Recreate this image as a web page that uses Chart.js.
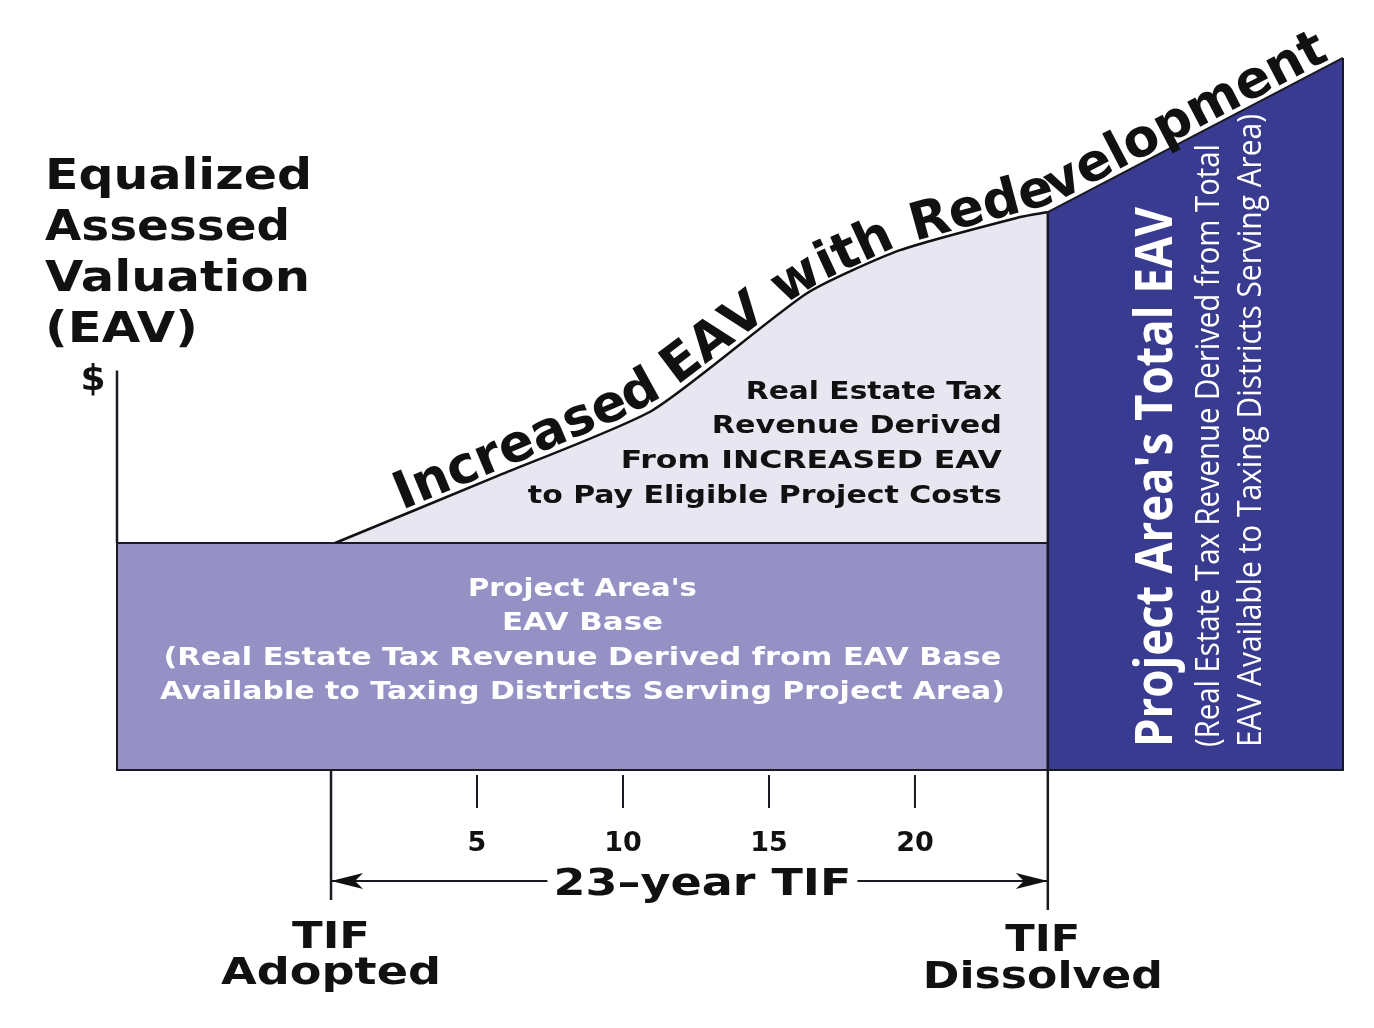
<!DOCTYPE html>
<html>
<head>
<meta charset="utf-8">
<script src="https://cdn.jsdelivr.net/npm/chart.js@4.4.1/dist/chart.umd.min.js"></script>
<style>
  html, body { margin: 0; padding: 0; background: #fff; }
  #wrap { width: 1374px; height: 1028px; }
</style>
</head>
<body>
<div id="wrap"><canvas id="tif" width="1374" height="1028"></canvas></div>
<script>
// ── Données (années depuis l'adoption du TIF, EAV relative à la base) ──
const xRange        = [-7.33, 34.66];
const baseEAV       = 1.0;
const tifAdopted    = 0;
const tifDissolved  = 24.55;
const tickYears     = [5, 10, 15, 20];
const curveYears    = [0.14, 5.79, 11.03, 16.30, 19.49, 23.60, 24.55];
const curveEAV      = [1.00, 1.30, 1.586, 2.10, 2.29, 2.436, 2.458];
const totalYears    = [24.55, 34.66];
const totalEAV      = [2.458, 3.137];
const axisTopEAV    = 1.76;
const yMax          = 3.26;

const curveTitle = 'Increased EAV with Redevelopment';
const titleLines = ['Equalized', 'Assessed', 'Valuation', '(EAV)'];
const increasedLines = ['Real Estate Tax', 'Revenue Derived', 'From INCREASED EAV', 'to Pay Eligible Project Costs'];
const baseLines = ["Project Area's", 'EAV Base', '(Real Estate Tax Revenue Derived from EAV Base', 'Available to Taxing Districts Serving Project Area)'];
const totalLines = ["Project Area's Total EAV", '(Real Estate Tax Revenue Derived from Total', 'EAV Available to Taxing Districts Serving Area)'];

const FONT = '"DejaVu Sans", Verdana, sans-serif';
const NARROW = '"Liberation Sans Narrow", "Open Sans", sans-serif';

/* ── Helpers texte ─────────────────────────────────────── */
function fitText(ctx, str, x, y, font, width, align, color) {
    ctx.save();
    ctx.font = font;
    ctx.fillStyle = color || '#111';
    ctx.textBaseline = 'middle';
    const w = ctx.measureText(str).width;
    const sx = width ? width / w : 1;
    ctx.translate(x, y);
    ctx.scale(sx, 1);
    ctx.textAlign = align || 'left';
    ctx.fillText(str, 0, 0);
    ctx.restore();
}

function pointAt(poly, s) {
    for (let i = 0; i < poly.length - 1; i++) {
        const a = poly[i], b = poly[i + 1];
        const len = Math.hypot(b.x - a.x, b.y - a.y);
        if (s <= len || i === poly.length - 2) {
            const t = s / len;
            return { x: a.x + (b.x - a.x) * t, y: a.y + (b.y - a.y) * t };
        }
        s -= len;
    }
}

function arcLengthAtX(poly, x) {
    let s = 0;
    for (let i = 0; i < poly.length - 1; i++) {
        const a = poly[i], b = poly[i + 1];
        const len = Math.hypot(b.x - a.x, b.y - a.y);
        if (x <= b.x) return s + len * (x - a.x) / (b.x - a.x);
        s += len;
    }
    return s;
}

/* ── Plugin : contours, axes, annotations ─────────────── */
const diagramPlugin = {
    id: 'diagram',
    afterDatasetsDraw(chart) {
        const { ctx, scales: { x, y } } = chart;
        const bottom = y.getPixelForValue(0);
        const xL = x.getPixelForValue(xRange[0]);
        const xA = x.getPixelForValue(tifAdopted);
        const xD = x.getPixelForValue(tifDissolved);
        const xR = x.getPixelForValue(totalYears[1]);
        const yB = y.getPixelForValue(baseEAV);

        ctx.save();
        ctx.strokeStyle = '#1a1a22';
        ctx.lineWidth = 2;

        // contour base EAV
        ctx.strokeRect(xL, yB, xD - xL, bottom - yB);
        // contour bloc total
        ctx.beginPath();
        ctx.moveTo(xD, bottom);
        ctx.lineTo(xR, bottom);
        ctx.lineTo(xR, y.getPixelForValue(totalEAV[1]));
        ctx.stroke();

        // axe vertical $
        ctx.lineWidth = 2.5;
        ctx.beginPath();
        ctx.moveTo(xL, yB);
        ctx.lineTo(xL, y.getPixelForValue(axisTopEAV));
        ctx.stroke();

        // lignes adoption / dissolution
        ctx.beginPath();
        ctx.moveTo(xA, bottom);
        ctx.lineTo(xA, bottom + 130);
        ctx.moveTo(xD, y.getPixelForValue(totalEAV[0]));
        ctx.lineTo(xD, bottom + 140);
        ctx.stroke();

        // graduations
        ctx.lineWidth = 2;
        tickYears.forEach(t => {
            const px = x.getPixelForValue(t);
            ctx.beginPath();
            ctx.moveTo(px, bottom + 5);
            ctx.lineTo(px, bottom + 38);
            ctx.stroke();
            fitText(ctx, String(t), px, bottom + 74, 'bold 27px ' + FONT, null, 'center');
        });

        // flèche 23 ans
        const ya = bottom + 111;
        ctx.beginPath();
        ctx.moveTo(xA, ya);
        ctx.lineTo(xD, ya);
        ctx.stroke();
        ctx.fillStyle = '#111';
        [[xA, 1], [xD, -1]].forEach(([tip, dir]) => {
            ctx.beginPath();
            ctx.moveTo(tip, ya);
            ctx.lineTo(tip + dir * 32, ya - 8);
            ctx.lineTo(tip + dir * 24, ya);
            ctx.lineTo(tip + dir * 32, ya + 8);
            ctx.closePath();
            ctx.fill();
        });
        const xm = (xA + xD) / 2 + 13;
        ctx.fillStyle = '#fff';
        ctx.fillRect(xm - 155, ya - 22, 310, 44);
        fitText(ctx, '23–year TIF', xm, ya + 4, 'bold 38px ' + FONT, 298, 'center');

        // TIF Adopted / Dissolved
        fitText(ctx, 'TIF', xA, bottom + 168, 'bold 38px ' + FONT, 78, 'center');
        fitText(ctx, 'Adopted', xA, bottom + 204, 'bold 38px ' + FONT, 220, 'center');
        fitText(ctx, 'TIF', xD - 5, bottom + 171, 'bold 38px ' + FONT, 75, 'center');
        fitText(ctx, 'Dissolved', xD - 5, bottom + 208, 'bold 38px ' + FONT, 240, 'center');

        // titre de l'axe
        const tw = [267, 245, 265, 153];
        titleLines.forEach((l, i) => {
            fitText(ctx, l, xL - 72, 178 + i * 51, '900 42px ' + FONT, tw[i], 'left');
        });
        fitText(ctx, '$', xL - 24, y.getPixelForValue(axisTopEAV) + 10, 'bold 36px ' + FONT, null, 'center');

        // texte zone augmentée
        const iw = [256, 290, 381, 474];
        increasedLines.forEach((l, i) => {
            fitText(ctx, l, xD - 46, 392 + i * 34.7, 'bold 25px ' + FONT, iw[i], 'right');
        });

        // texte base
        const bw = [229, 161, 838, 845];
        const xc = (xL + xD) / 2;
        baseLines.forEach((l, i) => {
            fitText(ctx, l, xc, 589 + i * 34.5, 'bold 25px ' + FONT, bw[i], 'center', '#fff');
        });

        // texte vertical bloc total
        const vx = [1157, 1210, 1252];
        const vw = [540, 603, 633];
        const vf = ['700 52px ', '500 32px ', '500 32px '];
        totalLines.forEach((l, i) => {
            ctx.save();
            ctx.translate(vx[i], 747);
            ctx.rotate(-Math.PI / 2);
            fitText(ctx, l, 0, 0, vf[i] + NARROW, vw[i], 'left', '#fff');
            ctx.restore();
        });

        // titre le long de la courbe
        const m1 = chart.getDatasetMeta(1).data;
        const m2 = chart.getDatasetMeta(2).data;
        const poly = m1.map(p => ({ x: p.x, y: p.y })).concat([{ x: m2[1].x, y: m2[1].y }]);
        const s0 = arcLengthAtX(poly, 404);
        const s1 = arcLengthAtX(poly, 1330);
        ctx.font = '600 48px ' + FONT;
        const total = ctx.measureText(curveTitle).width;
        const k = (s1 - s0) / total;
        ctx.font = '600 ' + (48 * k).toFixed(1) + 'px ' + FONT;
        ctx.fillStyle = '#111';
        ctx.textBaseline = 'alphabetic';
        ctx.textAlign = 'left';
        let s = s0;
        for (const ch of curveTitle) {
            const w = ctx.measureText(ch).width;
            const p1 = pointAt(poly, s), p2 = pointAt(poly, s + w);
            const ang = Math.atan2(p2.y - p1.y, p2.x - p1.x);
            ctx.save();
            ctx.translate(p1.x, p1.y);
            ctx.rotate(ang);
            ctx.fillText(ch, 0, -5);
            ctx.restore();
            s += w;
        }
        ctx.restore();
    }
};

/* ── Graphique ─────────────────────────────────────────── */
const pts = (xs, ys) => xs.map((v, i) => ({ x: v, y: ys[i] }));

new Chart(document.getElementById('tif'), {
    type: 'line',
    data: {
        datasets: [
            {
                data: pts([xRange[0], tifDissolved], [baseEAV, baseEAV]),
                fill: 'origin',
                backgroundColor: '#9591C5',
                borderColor: '#1a1a22',
                borderWidth: 2,
                pointRadius: 0,
                clip: false,
            },
            {
                data: pts(curveYears, curveEAV),
                fill: { value: baseEAV },
                backgroundColor: '#E7E6F1',
                borderColor: '#111',
                borderWidth: 2.5,
                pointRadius: 0,
                tension: 0.2,
                clip: false,
            },
            {
                data: pts(totalYears, totalEAV),
                fill: 'origin',
                backgroundColor: '#383B8F',
                borderColor: '#1a1a22',
                borderWidth: 2,
                pointRadius: 0,
                clip: false,
            },
        ]
    },
    options: {
        responsive: false,
        animation: false,
        layout: { padding: { left: 117, right: 31, top: 30, bottom: 258 } },
        scales: {
            x: { type: 'linear', min: xRange[0], max: xRange[1], display: false },
            y: { min: 0, max: yMax, display: false }
        },
        plugins: { legend: { display: false }, tooltip: { enabled: false } }
    },
    plugins: [diagramPlugin]
});
</script>
</body>
</html>
